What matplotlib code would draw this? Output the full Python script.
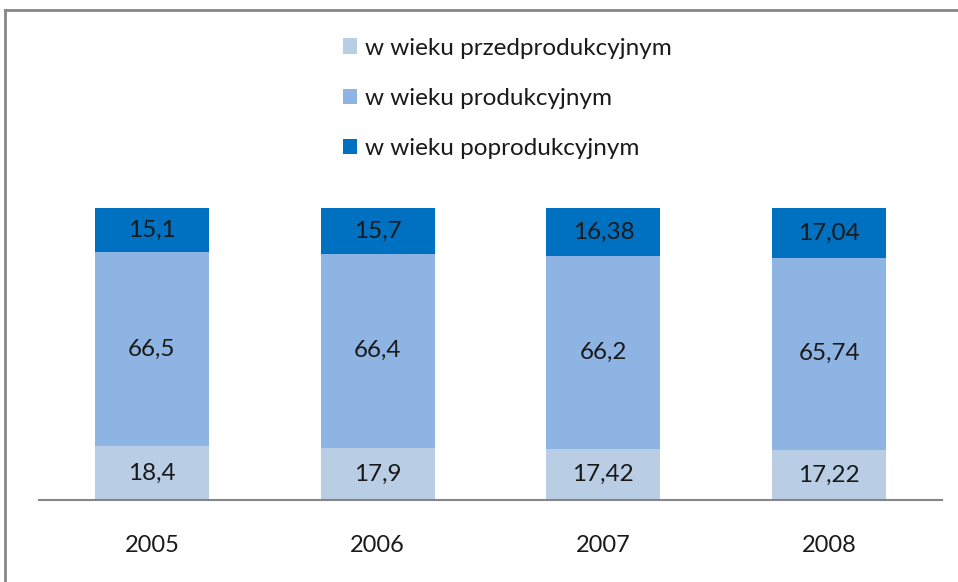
import numpy as np
import matplotlib.pyplot as plt
from matplotlib.lines import Line2D

years = ['2005', '2006', '2007', '2008']
przed = [18.4, 17.9, 17.42, 17.22]
prod = [66.5, 66.4, 66.2, 65.74]
poprod = [15.1, 15.7, 16.38, 17.04]
names = ['w wieku przedprodukcyjnym', 'w wieku produkcyjnym', 'w wieku poprodukcyjnym']
colors = ['#B9CDE5', '#8EB4E3', '#0070C0']

plt.rcParams['font.family'] = ['Lato', 'DejaVu Sans']

fig = plt.figure(figsize=(9.58, 5.82), dpi=100)
ax = fig.add_axes([39 / 958, 1 - 500 / 582, 903 / 958, 292 / 582])

x = np.arange(len(years))
bottom = np.zeros(len(years))
for vals, col, name in zip([przed, prod, poprod], colors, names):
    bars = ax.bar(x, vals, width=0.505, bottom=bottom, color=col, label=name)
    ax.bar_label(bars, labels=[f'{v:g}'.replace('.', ',') for v in vals],
                 label_type='center', fontsize=17.5, color='#1a1a1a')
    bottom += np.array(vals)

ax.set_xlim(-0.5, len(years) - 0.5)
ax.set_ylim(0, 100)
ax.set_xticks(x)
ax.set_xticklabels(years, fontsize=17, color='#1a1a1a')
ax.tick_params(axis='x', length=0, pad=25)
ax.set_yticks([])
for s in ['top', 'right', 'left']:
    ax.spines[s].set_visible(False)
ax.spines['bottom'].set_color('#868686')
ax.spines['bottom'].set_linewidth(1.5)

leg = ax.legend(loc='upper left', bbox_to_anchor=(333 / 958, 1 - 28 / 582),
                bbox_transform=fig.transFigure, frameon=False, fontsize=17.5,
                handlelength=0.6, handleheight=0.6, handletextpad=0.3,
                labelspacing=1.2, borderaxespad=0)
for t in leg.get_texts():
    t.set_color('#1a1a1a')

# outer frame of the chart area
fig.add_artist(Line2D([5 / 958, 5 / 958], [0, 1 - 10 / 582], transform=fig.transFigure,
                      color='#868686', linewidth=2))
fig.add_artist(Line2D([5 / 958, 1], [1 - 10 / 582, 1 - 10 / 582], transform=fig.transFigure,
                      color='#868686', linewidth=2))

fig.savefig('out.png', dpi=100)
